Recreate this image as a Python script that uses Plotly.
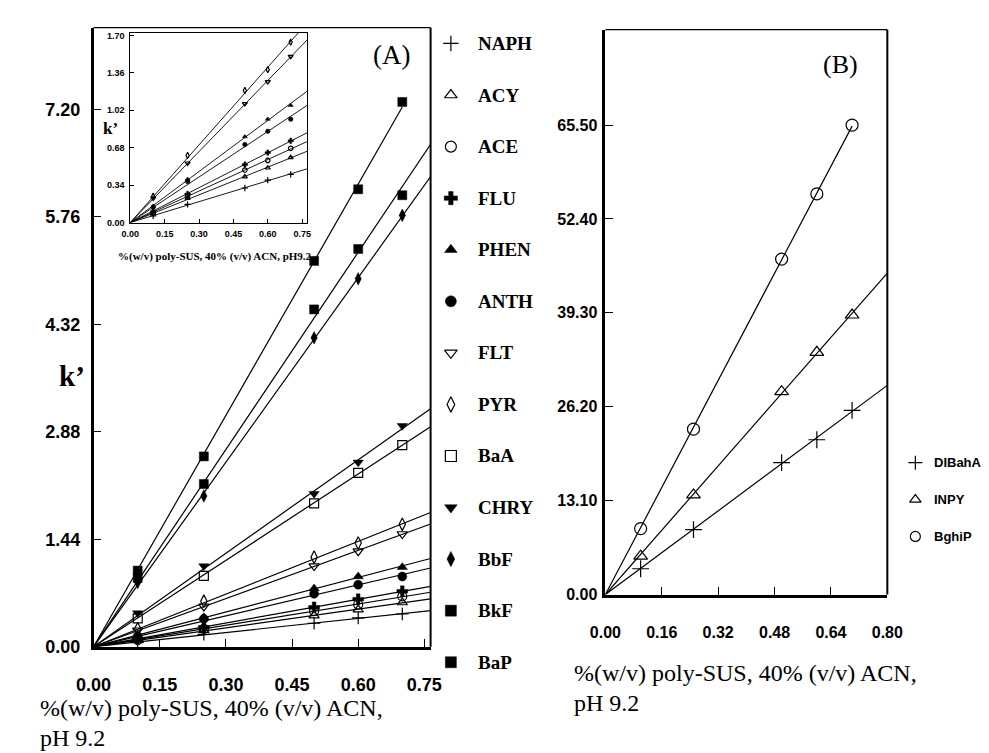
import numpy as np
import plotly.graph_objects as go

W, H = 989, 753

# ---------------- data ----------------
conc = [0.10, 0.25, 0.50, 0.60, 0.70]          # %(w/v) poly-SUS

compounds_a = ["NAPH", "ACY", "ACE", "FLU", "PHEN", "ANTH", "FLT", "PYR",
               "BaA", "CHRY", "BbF", "BkF", "BaP"]
k_NAPH = [0.060, 0.166, 0.314, 0.385, 0.438]
k_ACY = [0.085, 0.220, 0.417, 0.497, 0.592]
k_ACE = [0.090, 0.240, 0.477, 0.565, 0.675]
k_FLU = [0.100, 0.260, 0.527, 0.636, 0.743]
k_PHEN = [0.150, 0.394, 0.780, 0.940, 1.066]
k_ANTH = [0.140, 0.373, 0.710, 0.830, 0.940]
k_FLT = [0.220, 0.540, 1.080, 1.280, 1.510]
k_PYR = [0.240, 0.610, 1.200, 1.390, 1.640]
k_BaA = [0.38, 0.95, 1.92, 2.33, 2.70]
k_CHRY = [0.45, 1.08, 2.05, 2.47, 2.96]
k_BbF = [0.86, 2.02, 4.14, 4.93, 5.78]
k_BkF = [0.92, 2.18, 4.52, 5.33, 6.05]
k_BaP = [1.02, 2.55, 5.17, 6.13, 7.30]

compounds_b = ["DIBahA", "INPY", "BghiP"]
k_DIBahA = [3.60, 9.06, 18.40, 21.60, 25.70]
k_INPY = [5.35, 13.90, 28.30, 33.80, 39.00]
k_BghiP = [9.20, 23.07, 46.80, 55.90, 65.50]

ticks_a_x = [0.00, 0.15, 0.30, 0.45, 0.60, 0.75]
ticks_a_y = [0.00, 1.44, 2.88, 4.32, 5.76, 7.20]
ticks_in_x = [0.00, 0.15, 0.30, 0.45, 0.60, 0.75]
ticks_in_y = [0.00, 0.34, 0.68, 1.02, 1.36, 1.70]
ticks_b_x = [0.00, 0.16, 0.32, 0.48, 0.64, 0.80]
ticks_b_y = [0.00, 13.10, 26.20, 39.30, 52.40, 65.50]

x_label = "%(w/v) poly-SUS, 40% (v/v) ACN,"
x_label2 = "pH 9.2"
inset_x_label = "%(w/v) poly-SUS, 40% (v/v) ACN, pH9.2"

series_a = dict(NAPH=k_NAPH, ACY=k_ACY, ACE=k_ACE, FLU=k_FLU, PHEN=k_PHEN,
                ANTH=k_ANTH, FLT=k_FLT, PYR=k_PYR, BaA=k_BaA, CHRY=k_CHRY,
                BbF=k_BbF, BkF=k_BkF, BaP=k_BaP)
series_b = dict(DIBahA=k_DIBahA, INPY=k_INPY, BghiP=k_BghiP)
inset_names = compounds_a[:8]

# ---------------- styles ----------------
SYM = dict(NAPH="cross-thin-open", ACY="triangle-up-open", ACE="circle-open",
           FLU="cross", PHEN="triangle-up", ANTH="circle",
           FLT="triangle-down-open", PYR="diamond-tall-open",
           BaA="square-open", CHRY="triangle-down", BbF="diamond-tall",
           BkF="square", BaP="square",
           DIBahA="cross-thin-open", INPY="triangle-up-open", BghiP="circle-open")

NARROW = "Liberation Sans Narrow, Arial Narrow, Liberation Sans, Arial, sans-serif"
SERIF = "Liberation Serif, Times New Roman, serif"


def px(x):
    return x / W


def py(y):
    return 1 - y / H


def marker(name, size):
    s = SYM[name]
    if s.endswith("open"):
        return dict(symbol=s, size=size, color="black",
                    line=dict(color="black", width=1.2))
    return dict(symbol=s, size=size, color="black",
                line=dict(color="black", width=0.5))


fig = go.Figure()

# geometry (pixels) of the panels
A_X0, A_X1, A_Y0, A_Y1 = 70, 419, 647, 18
A_XS, A_YS = 456.7, 75.83
I_X0, I_X1, I_Y0, I_Y1 = 108, 291, 216, 23
I_XS, I_YS = 237.3, 111.8
B_X0, B_X1, B_Y0, B_Y1 = 600, 892, 594, 20
B_YS = 7.283

a_xmax = (A_X1 - A_X0) / A_XS
a_ymax = (A_Y0 - A_Y1) / A_YS
i_xmax = (I_X1 - I_X0) / I_XS
i_ymax = (I_Y0 - I_Y1) / I_YS
b_xmax = 0.80
b_ymax = (B_Y0 - B_Y1) / B_YS


def add_series(name, ys, xa, ya, xend, msize, lw):
    x = np.array(conc)
    y = np.array(ys)
    slope = float(np.dot(x, y) / np.dot(x, x))
    fig.add_trace(go.Scatter(x=[0, xend], y=[0, slope * xend], mode="lines",
                             line=dict(color="black", width=lw),
                             xaxis=xa, yaxis=ya, showlegend=False,
                             hoverinfo="skip"))
    fig.add_trace(go.Scatter(x=conc, y=ys, mode="markers",
                             marker=marker(name, msize), xaxis=xa, yaxis=ya,
                             showlegend=False, name=name, cliponaxis=False))


# panel A main
for n in compounds_a:
    xend = conc[-1] if n == "BaP" else a_xmax
    add_series(n, series_a[n], "x", "y", xend, 9, 1.2)

# inset
for n in inset_names:
    add_series(n, series_a[n], "x2", "y2", i_xmax, 4.5, 0.9)

# panel B
for n in compounds_b:
    xend = conc[-1] if n == "BghiP" else b_xmax
    add_series(n, series_b[n], "x3", "y3", xend, 12, 1.2)

# legend A (drawn in pixel-space overlay axis)
LA_MX, LA_TX, LA_Y0, LA_DY = 440, 466, 34, 52.4
for i, n in enumerate(compounds_a):
    yy = LA_Y0 + i * LA_DY
    fig.add_trace(go.Scatter(x=[LA_MX], y=[yy], mode="markers",
                             marker=marker(n, 11), xaxis="x4", yaxis="y4",
                             showlegend=False, hoverinfo="skip"))
    fig.add_annotation(x=px(LA_TX), y=py(yy), xref="paper", yref="paper",
                       text=n, showarrow=False, xanchor="left",
                       yanchor="middle",
                       font=dict(family=SERIF, size=19, color="black",
                                 weight="bold"))

# legend B
LB_MX, LB_TX, LB_Y0, LB_DY = 921, 938, 460, 37.5
for i, n in enumerate(compounds_b):
    yy = LB_Y0 + i * LB_DY
    fig.add_trace(go.Scatter(x=[LB_MX], y=[yy], mode="markers",
                             marker=marker(n, 10), xaxis="x4", yaxis="y4",
                             showlegend=False, hoverinfo="skip"))
    fig.add_annotation(x=px(LB_TX), y=py(yy), xref="paper", yref="paper",
                       text=n, showarrow=False, xanchor="left",
                       yanchor="middle",
                       font=dict(family=NARROW, size=13, color="black",
                                 weight="bold"))


def axis(domain, rng, ticks, anchor, fsize, lw, standoff, tlen, mirror):
    return dict(domain=domain, range=rng, tickvals=ticks,
                ticktext=[f"{t:.2f}" for t in ticks],
                ticks="inside", ticklen=tlen, tickwidth=1, tickcolor="black",
                showline=True, linecolor="black", linewidth=lw, mirror=mirror,
                showgrid=False, zeroline=False, anchor=anchor,
                tickfont=dict(family=NARROW, size=fsize, color="black",
                              weight="bold"),
                ticklabelstandoff=standoff, fixedrange=True)


fig.update_layout(
    width=W, height=H, margin=dict(l=0, r=0, t=0, b=0),
    paper_bgcolor="white", plot_bgcolor="rgba(0,0,0,0)",
    xaxis=axis([px(A_X0), px(A_X1)], [0, a_xmax], ticks_a_x, "y", 18, 2.6, 20, 8, False),
    yaxis=axis([py(A_Y0), py(A_Y1)], [0, a_ymax], ticks_a_y, "x", 18, 2.6, 7, 8, False),
    xaxis2=axis([px(I_X0), px(I_X1)], [0, i_xmax], ticks_in_x, "y2", 9, 1, 3, 4, True),
    yaxis2=axis([py(I_Y0), py(I_Y1)], [0, i_ymax], ticks_in_y, "x2", 9, 1, 3, 4, True),
    xaxis3=axis([px(B_X0), px(B_X1)], [0, b_xmax], ticks_b_x, "y3", 16, 2.6, 21, 8, False),
    yaxis3=axis([py(B_Y0), py(B_Y1)], [0, b_ymax], ticks_b_y, "x3", 16, 2.6, 2, 8, False),
    xaxis4=dict(domain=[0, 1], range=[0, W], visible=False, anchor="y4",
                fixedrange=True),
    yaxis4=dict(domain=[0, 1], range=[H, 0], visible=False, anchor="x4",
                fixedrange=True),
)

# top (thin) and right (medium) frame edges of the two main panels
for (x0, x1, y0, y1) in [(A_X0, A_X1, A_Y0, A_Y1), (B_X0, B_X1, B_Y0, B_Y1)]:
    fig.add_shape(type="line", xref="paper", yref="paper",
                  x0=px(x0), x1=px(x1), y0=py(y1), y1=py(y1),
                  line=dict(color="black", width=1.3))
    fig.add_shape(type="line", xref="paper", yref="paper",
                  x0=px(x1), x1=px(x1), y0=py(y0), y1=py(y1),
                  line=dict(color="black", width=2.0))

texts = [
    (48, 372, "k’", SERIF, 29, "bold", "center"),
    (88, 120, "k’", SERIF, 17, "bold", "center"),
    (378, 46, "(A)", SERIF, 27, "normal", "center"),
    (843, 55, "(B)", SERIF, 26, "normal", "center"),
    (196, 251, inset_x_label, SERIF, 11, "bold", "center"),
    (12, 709, x_label, SERIF, 24, "normal", "left"),
    (12, 740, x_label2, SERIF, 24, "normal", "left"),
    (565, 674, x_label, SERIF, 24, "normal", "left"),
    (565, 704, x_label2, SERIF, 24, "normal", "left"),
]
for (x, y, t, fam, sz, wt, anc) in texts:
    fig.add_annotation(x=px(x), y=py(y), xref="paper", yref="paper", text=t,
                       showarrow=False, xanchor=anc, yanchor="middle",
                       font=dict(family=fam, size=sz, color="black", weight=wt))

fig.write_html("out.html")
